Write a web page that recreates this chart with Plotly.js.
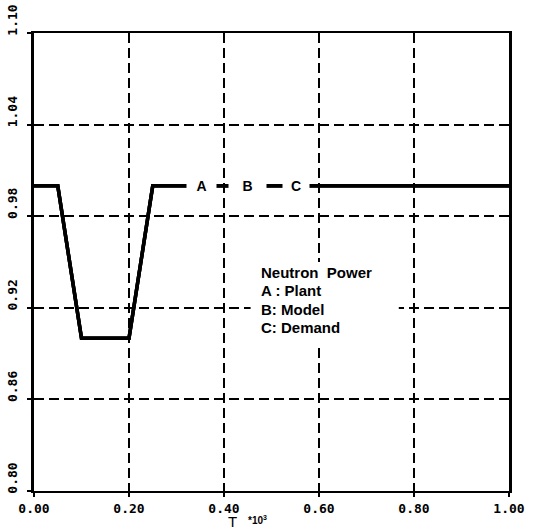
<!DOCTYPE html>
<html>
<head>
<meta charset="utf-8">
<script src="https://cdn.plot.ly/plotly-3.0.1.min.js"></script>
<style>html,body{margin:0;padding:0;background:#fff;}#chart{width:546px;height:528px;}</style>
</head>
<body>
<div id="chart"></div>
<script>
// ---- data ----
const timeValues = [0, 0.05, 0.10, 0.20, 0.25, 1.00];     // T (x10^3)
const plantPower = [1.00, 1.00, 0.90, 0.90, 1.00, 1.00];   // A : Plant
const modelPower = [1.00, 1.00, 0.90, 0.90, 1.00, 1.00];   // B : Model
const demandPower = [1.00, 1.00, 0.90, 0.90, 1.00, 1.00];  // C : Demand
const xTickVals = [0, 0.2, 0.4, 0.6, 0.8, 1.0];
const xTickText = ['0.00', '0.20', '0.40', '0.60', '0.80', '1.00'];
const yTickVals = [0.80, 0.86, 0.92, 0.98, 1.04, 1.10];
const yTickText = ['0.80', '0.86', '0.92', '0.98', '1.04', '1.10'];
const curveLetters = ['A', 'B', 'C'];
const legendLines = ['Neutron  Power', 'A : Plant', 'B: Model', 'C: Demand'];

const lineStyle = {color: '#000', width: 3.5};
const traces = [
  {x: timeValues, y: plantPower, name: 'Plant', mode: 'lines', line: lineStyle, hoverinfo: 'skip'},
  {x: timeValues, y: modelPower, name: 'Model', mode: 'lines', line: lineStyle, hoverinfo: 'skip'},
  {x: timeValues, y: demandPower, name: 'Demand', mode: 'lines', line: lineStyle, hoverinfo: 'skip'}
];

const tickFont = {family: 'DejaVu Sans Mono', size: 13, color: '#000', weight: 'bold'};
const sans = 'Liberation Sans, Arial, sans-serif';

// curve labels placed on the level line, each with a white box that breaks the line
const letterX = [0.352, 0.450, 0.551];
const letterW = [29, 37, 26];
const letterLevel = plantPower[plantPower.length - 1];
const annotations = curveLetters.map((c, i) => ({
  x: letterX[i], y: letterLevel, xref: 'x', yref: 'y',
  text: '<b>' + c + '</b>', showarrow: false,
  font: {family: sans, size: 14, color: '#000'},
  bgcolor: '#fff', width: letterW[i], height: 13, borderpad: 0,
  xanchor: 'center', yanchor: 'middle'
}));

// legend text block, one line per annotation
const legendY = [0.478, 0.438, 0.397, 0.357];
legendLines.forEach((line, i) => {
  annotations.push({
    x: 0.473, y: legendY[i], xref: 'paper', yref: 'paper',
    xanchor: 'left', yanchor: 'middle', align: 'left',
    text: '<b>' + line + '</b>', showarrow: false,
    font: {family: sans, size: 15, color: '#000'}
  });
});

annotations.push({
  x: 0.418, y: -0.067, xref: 'paper', yref: 'paper',
  xanchor: 'center', yanchor: 'middle', text: 'T', showarrow: false,
  font: {family: sans, size: 15, color: '#000'}
});
annotations.push({
  x: 0.447, y: -0.064, xref: 'paper', yref: 'paper',
  xanchor: 'left', yanchor: 'middle', text: '<b>*10<sup>3</sup></b>', showarrow: false,
  font: {family: sans, size: 10, color: '#000'}
});

const layout = {
  width: 546, height: 528,
  margin: {l: 34, r: 37, t: 33, b: 37},
  paper_bgcolor: '#fff', plot_bgcolor: '#fff',
  showlegend: false,
  xaxis: {
    range: [0, 1.0], tickvals: xTickVals, ticktext: xTickText,
    showline: true, mirror: true, linecolor: '#000', linewidth: 2,
    showgrid: true, gridcolor: '#000', gridwidth: 2, griddash: '10px,5px',
    zeroline: false, ticks: 'outside', ticklen: 4, tickwidth: 2, tickcolor: '#000',
    tickfont: tickFont
  },
  yaxis: {
    range: [0.80, 1.10], tickvals: yTickVals, ticktext: yTickText,
    showline: true, mirror: true, linecolor: '#000', linewidth: 3,
    showgrid: true, gridcolor: '#000', gridwidth: 2, griddash: '10px,5px',
    zeroline: false, ticks: 'outside', ticklen: 4, tickwidth: 2, tickcolor: '#000',
    tickfont: tickFont, tickangle: -90, ticklabelshift: -11, ticklabelstandoff: 5
  },
  shapes: [{
    type: 'rect', xref: 'paper', yref: 'paper', layer: 'above',
    x0: 0.456, x1: 0.768, y0: 0.323, y1: 0.5,
    fillcolor: '#fff', line: {width: 0}
  }],
  annotations: annotations
};

Plotly.newPlot('chart', traces, layout, {displayModeBar: false, staticPlot: true});
</script>
</body>
</html>
